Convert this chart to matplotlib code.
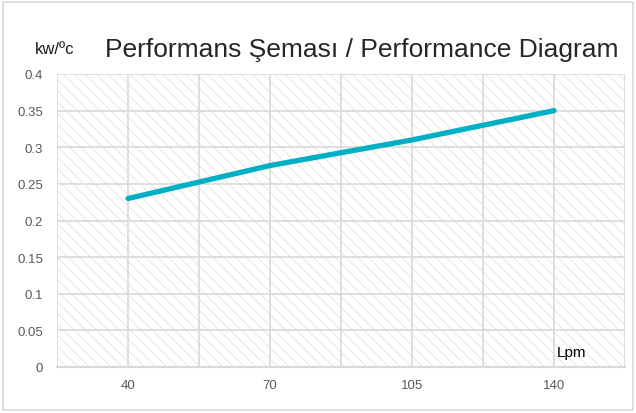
import matplotlib.pyplot as plt
from matplotlib.patches import Rectangle

# data
flow = ['40', '70', '105', '140']
perf = [0.23, 0.275, 0.31, 0.35]
yticks = [0, 0.05, 0.1, 0.15, 0.2, 0.25, 0.3, 0.35, 0.4]
ytick_labels = ['0', '0.05', '0.1', '0.15', '0.2', '0.25', '0.3', '0.35', '0.4']

plt.rcParams['font.family'] = ['Liberation Sans', 'DejaVu Sans']
plt.rcParams['hatch.linewidth'] = 0.5

fig = plt.figure(figsize=(6.36, 4.14), dpi=100)
ax = fig.add_axes([57 / 636, 1 - 368 / 414, 568 / 636, 293 / 414])

# outer border
fig.patches.append(Rectangle((3 / 636, 3 / 414), 630 / 636, 408 / 414,
                             transform=fig.transFigure, fill=False,
                             edgecolor='#d9d9d9', linewidth=1.2))

# hatched plot area
ax.add_patch(Rectangle((0, 0), 1, 1, transform=ax.transAxes, facecolor='none',
                       edgecolor='#dedede', hatch='\\\\\\', linewidth=0, zorder=0))

x = list(range(len(flow)))
ax.plot(x, perf, color='#00AFC4', linewidth=3.8, solid_capstyle='round', zorder=3)

ax.set_xlim(-0.5, len(flow) - 0.5)
ax.set_ylim(0, 0.4)
ax.set_xticks(x)
ax.set_xticklabels(flow)
ax.set_xticks([i - 0.5 for i in range(len(flow) + 1)], minor=True)
ax.set_yticks(yticks)
ax.set_yticklabels(ytick_labels)

ax.grid(True, which='both', axis='x', color='#d9d9d9', linewidth=1.2, zorder=1)
ax.grid(True, which='major', axis='y', color='#d9d9d9', linewidth=1.2, zorder=1)
ax.set_axisbelow(True)

for s in ['top', 'right', 'left']:
    ax.spines[s].set_visible(False)
ax.spines['bottom'].set_color('#d9d9d9')
ax.spines['bottom'].set_linewidth(1.5)

ax.tick_params(axis='both', which='both', length=0, labelsize=9.5, labelcolor='#595959')
ax.tick_params(axis='x', pad=9)
ax.tick_params(axis='y', pad=10)

fig.text(105 / 636, 1 - 50 / 414, 'Performans Şeması / Performance Diagram',
         fontsize=19, color='#262626', va='center', ha='left')
fig.text(35 / 636, 1 - 49 / 414, 'kw/ºc', fontsize=12, color='#1a1a1a',
         va='center', ha='left')
ax.text(3.12, 0.02, 'Lpm', fontsize=11, color='#000000', ha='center', va='center')

fig.savefig('out.png', dpi=100)
